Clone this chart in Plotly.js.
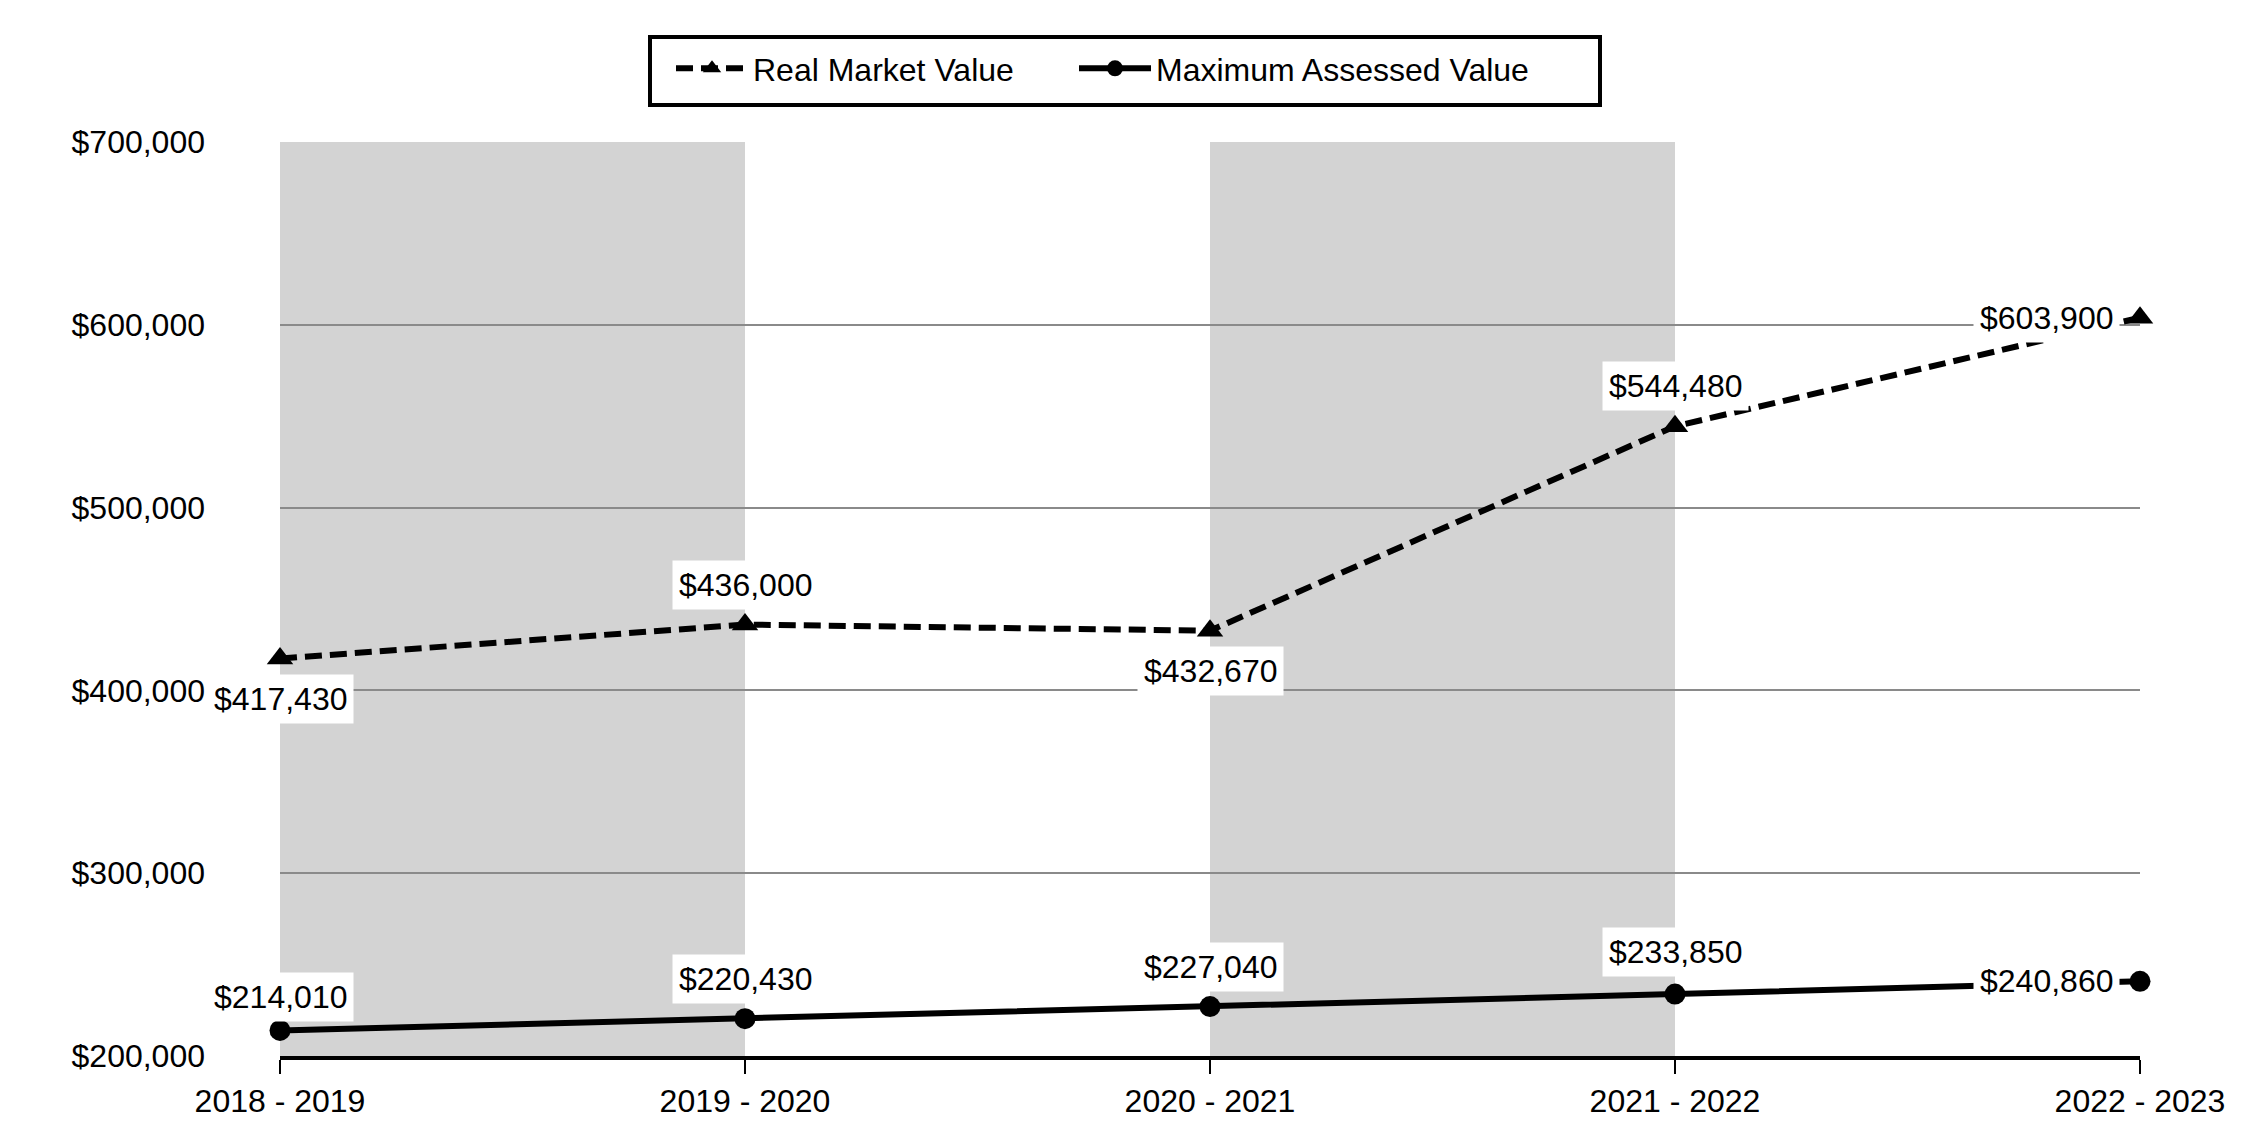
<!DOCTYPE html>
<html>
<head>
<meta charset="utf-8">
<script src="https://cdn.plot.ly/plotly-3.0.1.min.js"></script>
<style>
html,body{margin:0;padding:0;background:#fff;}
#chart{width:2250px;height:1140px;}
</style>
</head>
<body>
<div id="chart"></div>
<script>
// ---- data ----
const categories = ["2018 - 2019", "2019 - 2020", "2020 - 2021", "2021 - 2022", "2022 - 2023"];
const realMarketValue = [417430, 436000, 432670, 544480, 603900];
const maxAssessedValue = [214010, 220430, 227040, 233850, 240860];
const seriesNames = ["Real Market Value", "Maximum Assessed Value"];
const yTickValues = [200000, 300000, 400000, 500000, 600000, 700000];

// ---- label placement (style only) ----
const rmvPlacement = [["below", 40], ["above", 40], ["below", 40], ["above", 40], ["left", 0]];
const mavPlacement = [["above", 33], ["above", 40], ["above", 40], ["above", 42], ["left", 0]];

const W = 2250, H = 1140;
const M = {l: 280, r: 110, t: 142, b: 84};
const PW = W - M.l - M.r, PH = H - M.t - M.b;
const FONT = "Arial, 'Liberation Sans', sans-serif";
const FS = 32;
const xIdx = categories.map((c, i) => i);
const money = v => "$" + v.toLocaleString("en-US");

const traces = [
  {
    x: xIdx, y: realMarketValue, name: seriesNames[0], type: "scatter", mode: "lines+markers",
    line: {color: "#000", width: 6, dash: "17px,8px"},
    marker: {symbol: "triangle-up", size: 23, color: "#000"},
    cliponaxis: false, hoverinfo: "skip", legend: "legend"
  },
  {
    x: xIdx, y: maxAssessedValue, name: seriesNames[1], type: "scatter", mode: "lines+markers",
    line: {color: "#000", width: 6},
    marker: {symbol: "circle", size: 21, color: "#000"},
    cliponaxis: false, hoverinfo: "skip", legend: "legend2"
  }
];

function makeLabels(xs, ys, placement) {
  return ys.map((v, i) => {
    const [p, off] = placement[i];
    const a = {
      x: xs[i], y: v, xref: "x", yref: "y", text: money(v), showarrow: false,
      font: {family: FONT, size: FS, color: "#000"},
      bgcolor: "#fff", borderpad: 6, yanchor: "middle"
    };
    if (p === "above") a.yshift = off;
    else if (p === "below") a.yshift = -off;
    else { a.xanchor = "right"; a.xshift = -20; }
    return a;
  });
}

const annotations = makeLabels(xIdx, realMarketValue, rmvPlacement)
  .concat(makeLabels(xIdx, maxAssessedValue, mavPlacement));

// alternating shaded columns
const shapes = [];
for (let i = 0; i < categories.length - 1; i += 2) {
  shapes.push({
    type: "rect", xref: "x", yref: "paper", x0: xIdx[i], x1: xIdx[i + 1], y0: 0, y1: 1,
    fillcolor: "#d3d3d3", line: {width: 0}, layer: "below"
  });
}
// legend frame (pixel box converted to paper coordinates)
const box = {x0: 650, x1: 1600, y0: 37, y1: 105};
shapes.push({
  type: "rect", xref: "paper", yref: "paper",
  x0: (box.x0 - M.l) / PW, x1: (box.x1 - M.l) / PW,
  y0: (H - M.b - box.y1) / PH, y1: (H - M.b - box.y0) / PH,
  line: {color: "#000", width: 4}, fillcolor: "rgba(0,0,0,0)", layer: "above"
});

const legendCommon = {
  orientation: "h", xref: "container", yref: "container", xanchor: "left",
  y: 1 - 41 / H, yanchor: "top",
  bgcolor: "rgba(0,0,0,0)", borderwidth: 0,
  font: {family: FONT, size: FS, color: "#000"},
  itemwidth: 72
};

const layout = {
  width: W, height: H,
  paper_bgcolor: "#fff", plot_bgcolor: "#fff",
  margin: M,
  font: {family: FONT, size: FS, color: "#000"},
  showlegend: true,
  legend: Object.assign({}, legendCommon, {x: 671 / W}),
  legend2: Object.assign({}, legendCommon, {x: 1074 / W}),
  xaxis: {
    range: [0, categories.length - 1], tickmode: "array", tickvals: xIdx, ticktext: categories,
    showgrid: false, zeroline: false,
    showline: true, linecolor: "#000", linewidth: 4,
    ticks: "outside", ticklen: 14, tickwidth: 1.5, tickcolor: "#000",
    tickfont: {family: FONT, size: FS, color: "#000"}, fixedrange: true
  },
  yaxis: {
    range: [yTickValues[0], yTickValues[yTickValues.length - 1]],
    tickmode: "array", tickvals: yTickValues, tickformat: "$,.0f",
    showgrid: true, gridcolor: "#8a8a8a", gridwidth: 2,
    zeroline: false, showline: false, ticks: "",
    ticklabelstandoff: 74,
    tickfont: {family: FONT, size: FS, color: "#000"}, fixedrange: true
  },
  shapes: shapes,
  annotations: annotations
};

Plotly.newPlot("chart", traces, layout, {displayModeBar: false, staticPlot: true});
</script>
</body>
</html>
